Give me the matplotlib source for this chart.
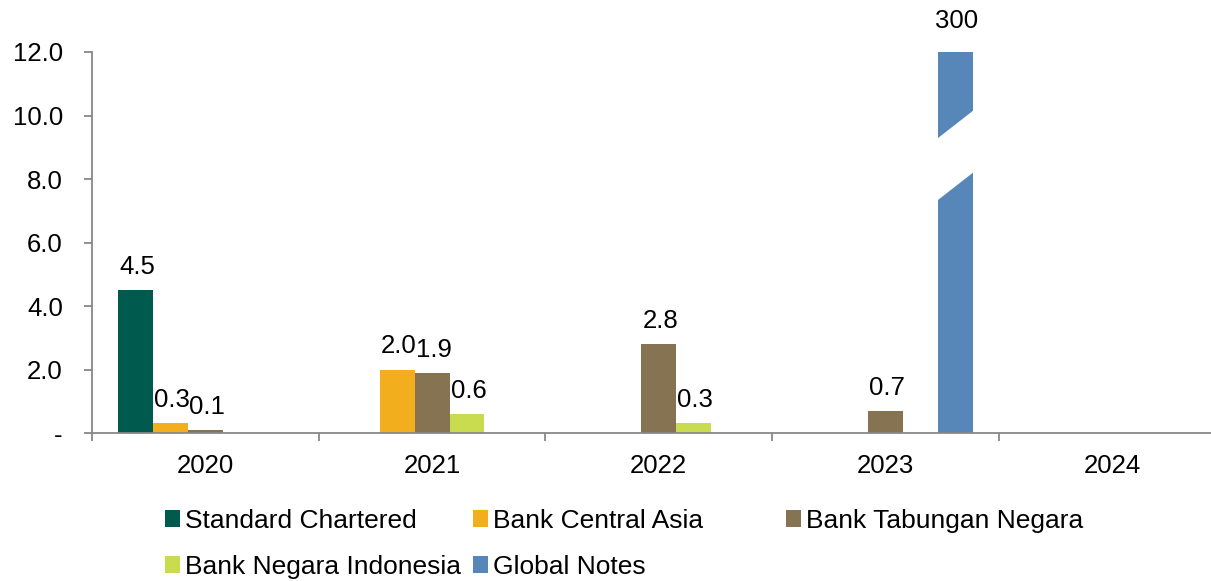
import matplotlib
matplotlib.use("Agg")
import matplotlib.pyplot as plt
from matplotlib.patches import Polygon
import numpy as np

plt.rcParams['font.family'] = ['Liberation Sans', 'DejaVu Sans']

years = ["2020", "2021", "2022", "2023", "2024"]
series_names = ["Standard Chartered", "Bank Central Asia", "Bank Tabungan Negara",
                "Bank Negara Indonesia", "Global Notes"]
standard_chartered = [4.5, 0, 0, 0, 0]
bank_central_asia = [0.3, 2.0, 0, 0, 0]
bank_tabungan_negara = [0.1, 1.9, 2.8, 0.7, 0]
bank_negara_indonesia = [0, 0.6, 0.3, 0, 0]
global_notes = [0, 0, 0, 300, 0]
y_ticks = [0, 2, 4, 6, 8, 10, 12]
y_tick_labels = ["-", "2.0", "4.0", "6.0", "8.0", "10.0", "12.0"]

colors = ["#005a4e", "#f2ae1c", "#857352", "#c9dc4f", "#5787b8"]
all_series = [standard_chartered, bank_central_asia, bank_tabungan_negara,
              bank_negara_indonesia, global_notes]

FS = 18.5
LEG_FS = 19
W, H = 1211, 581
fig = plt.figure(figsize=(W / 100, H / 100), dpi=100)
ax = fig.add_axes([0.0760, 0.2547, 0.936, 0.6558])

x = np.arange(len(years))
w = 0.154
ymax = 12
bars_all = []
for k, (vals, col, name) in enumerate(zip(all_series, colors, series_names)):
    bars = ax.bar(x + (k - 2) * w, vals, width=w, color=col, label=name, zorder=2)
    bars_all.append(bars)
    for b, v in zip(bars, vals):
        if v == 0:
            continue
        top = min(v, ymax)
        txt = f"{v:.0f}" if v >= 100 else f"{v:.1f}"
        dy = 14 if v > ymax else 8
        ax.annotate(txt, (b.get_x() + b.get_width() / 2, top), xytext=(1, dy),
                    textcoords="offset points", ha="center", va="bottom",
                    fontsize=FS, annotation_clip=False)
        if v > ymax:
            # slanted white gap marking the axis break
            x0 = b.get_x() - 0.01
            x1 = b.get_x() + b.get_width() + 0.01
            gap = Polygon([(x0, 7.28), (x1, 8.25), (x1, 10.2), (x0, 9.23)],
                          closed=True, facecolor="white", edgecolor="none", zorder=3)
            ax.add_patch(gap)

ax.set_ylim(0, ymax)
ax.set_xlim(-0.5, 4.5)
ax.set_yticks(y_ticks)
ax.set_yticklabels(y_tick_labels, fontsize=FS)
ax.set_xticks(x)
ax.set_xticklabels(years, fontsize=FS)
ax.set_xticks(np.arange(-0.5, 5, 1), minor=True)

axis_gray = "#888888"
for s in ["top", "right"]:
    ax.spines[s].set_visible(False)
for s in ["left", "bottom"]:
    ax.spines[s].set_color(axis_gray)
    ax.spines[s].set_linewidth(1.3)
ax.tick_params(axis="y", direction="out", length=6, width=1.3, color=axis_gray, pad=15)
ax.tick_params(axis="x", which="major", length=0, pad=15)
ax.tick_params(axis="x", which="minor", direction="out", length=6, width=1.3, color=axis_gray)

# legend laid out as three columns at fixed horizontal positions
columns = [[0, 3], [1, 4], [2]]
col_x = [165, 473, 786]
for idxs, px in zip(columns, col_x):
    fig.legend([bars_all[i] for i in idxs], [series_names[i] for i in idxs],
               loc="upper left", bbox_to_anchor=(px / W, 1 - 509 / H),
               frameon=False, fontsize=LEG_FS, handlelength=0.57, handleheight=0.6,
               handletextpad=0.2, labelspacing=0.82, borderpad=0, borderaxespad=0)

fig.savefig("out.png", dpi=100)
